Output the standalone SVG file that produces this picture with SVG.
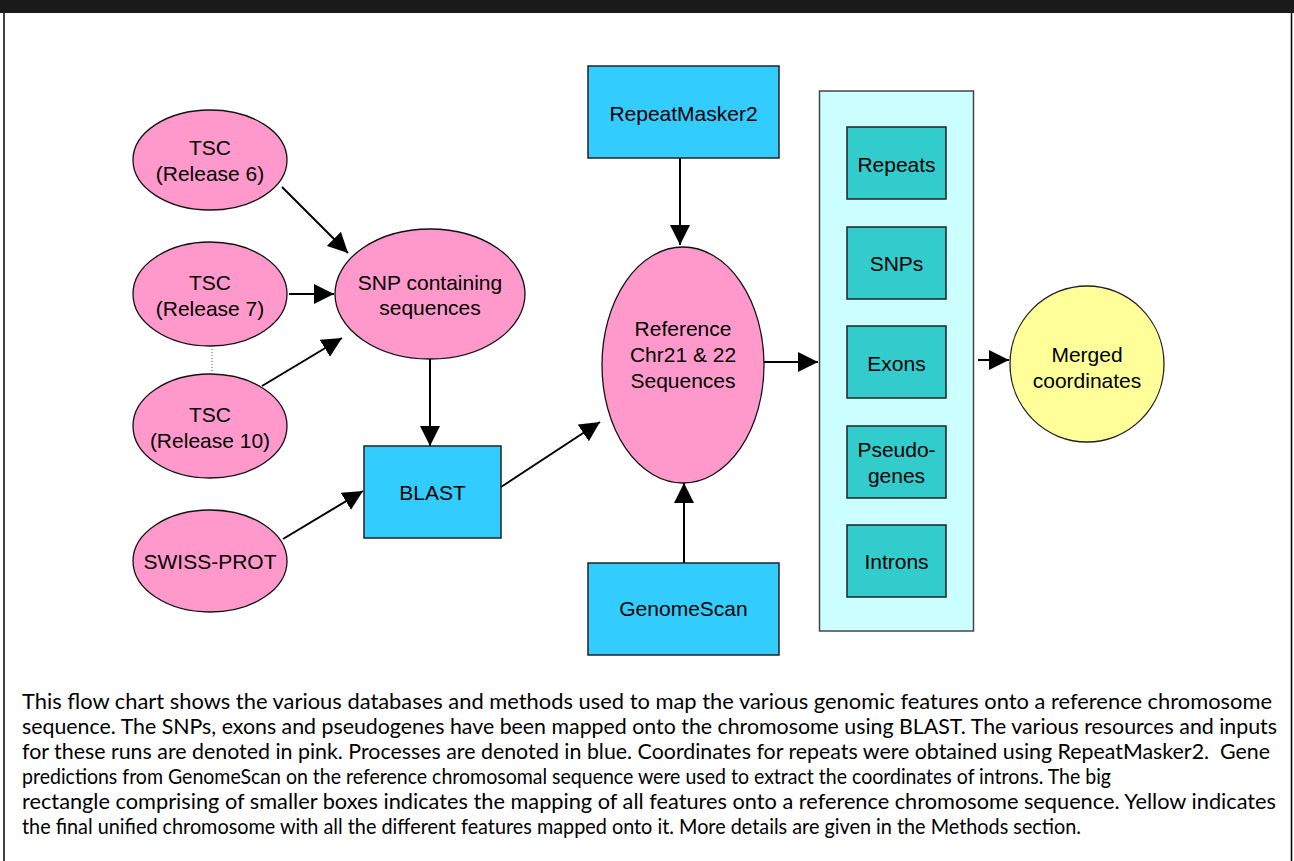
<svg xmlns="http://www.w3.org/2000/svg" width="1294" height="861" viewBox="0 0 1294 861">
<style>
.lbl{font-family:"Liberation Sans",Arial,sans-serif;font-size:21px;fill:#000;text-anchor:middle}
.pink{fill:#ff99cc;stroke:#111;stroke-width:1.3}
.blue{fill:#33ccff;stroke:#222;stroke-width:1.5}
.teal{fill:#33cccc;stroke:#222;stroke-width:1.5}
.cap{font-family:Lato,"Open Sans",sans-serif;font-weight:400;font-size:21.5px;fill:#000;white-space:pre}
.conn line{stroke:#000;stroke-width:2;marker-end:url(#ah)}
</style>
<defs>
<marker id="ah" markerUnits="userSpaceOnUse" markerWidth="20" markerHeight="20" refX="20" refY="10" orient="auto" viewBox="0 0 20 20">
<path d="M0,0 L20,10 L0,20 z" fill="#000"/>
</marker>
</defs>
<rect x="0" y="0" width="1294" height="861" fill="#fff"/>
<rect x="0" y="0" width="1294" height="13" fill="#1a1a1a"/>
<line x1="4" y1="13" x2="4" y2="861" stroke="#000" stroke-width="1.5"/>
<line x1="1291.5" y1="13" x2="1291.5" y2="861" stroke="#000" stroke-width="1.5"/>

<g id="tsc6"><ellipse class="pink" cx="210" cy="160" rx="77" ry="50"/><text class="lbl" x="210" y="154.5">TSC</text><text class="lbl" x="210" y="180.5">(Release 6)</text></g>
<g id="tsc7"><ellipse class="pink" cx="210" cy="294" rx="77" ry="52"/><text class="lbl" x="210" y="289.5">TSC</text><text class="lbl" x="210" y="315.5">(Release 7)</text></g>
<g id="tsc10"><ellipse class="pink" cx="210" cy="426" rx="77" ry="52"/><text class="lbl" x="210" y="421.5">TSC</text><text class="lbl" x="210" y="447.5">(Release 10)</text></g>
<g id="swissprot"><ellipse class="pink" cx="210" cy="561" rx="77" ry="51"/><text class="lbl" x="210" y="568.5">SWISS-PROT</text></g>
<g id="snp"><ellipse class="pink" cx="430" cy="294" rx="95" ry="65"/><text class="lbl" x="430" y="290">SNP containing</text><text class="lbl" x="430" y="315">sequences</text></g>
<g id="blast"><rect class="blue" x="364" y="446" width="137" height="92"/><text class="lbl" x="432.5" y="499.5">BLAST</text></g>
<g id="repeatmasker"><rect class="blue" x="588" y="66" width="191" height="92"/><text class="lbl" x="683.5" y="120.5">RepeatMasker2</text></g>
<g id="genomescan"><rect class="blue" x="588" y="563" width="191" height="92"/><text class="lbl" x="683.5" y="615.5">GenomeScan</text></g>
<g id="reference"><ellipse class="pink" cx="683" cy="365" rx="81" ry="118"/><text class="lbl" x="683" y="335.5">Reference</text><text class="lbl" x="683" y="361.5">Chr21 &amp; 22</text><text class="lbl" x="683" y="387.5">Sequences</text></g>
<g id="features">
<rect x="819.5" y="91" width="154" height="540" fill="#ccffff" stroke="#444" stroke-width="1.5"/>
<g id="repeats"><rect class="teal" x="847" y="127" width="99" height="72"/><text class="lbl" x="896.5" y="171.5">Repeats</text></g>
<g id="snps"><rect class="teal" x="847" y="227" width="99" height="72"/><text class="lbl" x="896.5" y="270.5">SNPs</text></g>
<g id="exons"><rect class="teal" x="847" y="326" width="99" height="72"/><text class="lbl" x="896.5" y="370.5">Exons</text></g>
<g id="pseudogenes"><rect class="teal" x="847" y="426" width="99" height="72"/><text class="lbl" x="896.5" y="456.5">Pseudo-</text><text class="lbl" x="896.5" y="482.5">genes</text></g>
<g id="introns"><rect class="teal" x="847" y="525" width="99" height="72"/><text class="lbl" x="896.5" y="568.5">Introns</text></g>
</g>
<g id="merged"><ellipse cx="1087" cy="364" rx="77" ry="78" fill="#ffff99" stroke="#222" stroke-width="1.3"/><text class="lbl" x="1087" y="361.5">Merged</text><text class="lbl" x="1087" y="387.5">coordinates</text></g>

<g id="connectors" class="conn">
<line x1="282" y1="187" x2="348" y2="253"/>
<line x1="289" y1="294" x2="334" y2="294"/>
<line x1="262" y1="386" x2="342" y2="338"/>
<line x1="430" y1="359" x2="430" y2="446"/>
<line x1="283" y1="539" x2="363" y2="491"/>
<line x1="501" y1="487" x2="600" y2="422"/>
<line x1="680" y1="158" x2="680" y2="245"/>
<line x1="684" y1="563" x2="684" y2="483"/>
<line x1="764" y1="362" x2="818" y2="362"/>
<line x1="978" y1="360" x2="1009" y2="360"/>
<path d="M212,346 L212,376" stroke="#555" stroke-width="1" stroke-dasharray="1,2" fill="none"/>
</g>

<g id="caption">
<text class="cap" x="22" y="709" textLength="1250" lengthAdjust="spacingAndGlyphs">This flow chart shows the various databases and methods used to map the various genomic features onto a reference chromosome</text>
<text class="cap" x="22" y="734" textLength="1255" lengthAdjust="spacingAndGlyphs">sequence. The SNPs, exons and pseudogenes have been mapped onto the chromosome using BLAST. The various resources and inputs</text>
<text class="cap" x="22" y="759" textLength="1248" lengthAdjust="spacingAndGlyphs">for these runs are denoted in pink. Processes are denoted in blue. Coordinates for repeats were obtained using RepeatMasker2.  Gene</text>
<text class="cap" x="22" y="784" textLength="1089" lengthAdjust="spacingAndGlyphs">predictions from GenomeScan on the reference chromosomal sequence were used to extract the coordinates of introns. The big</text>
<text class="cap" x="22" y="809" textLength="1254" lengthAdjust="spacingAndGlyphs">rectangle comprising of smaller boxes indicates the mapping of all features onto a reference chromosome sequence. Yellow indicates</text>
<text class="cap" x="22" y="834" textLength="1059" lengthAdjust="spacingAndGlyphs">the final unified chromosome with all the different features mapped onto it. More details are given in the Methods section.</text>
</g>
</svg>
